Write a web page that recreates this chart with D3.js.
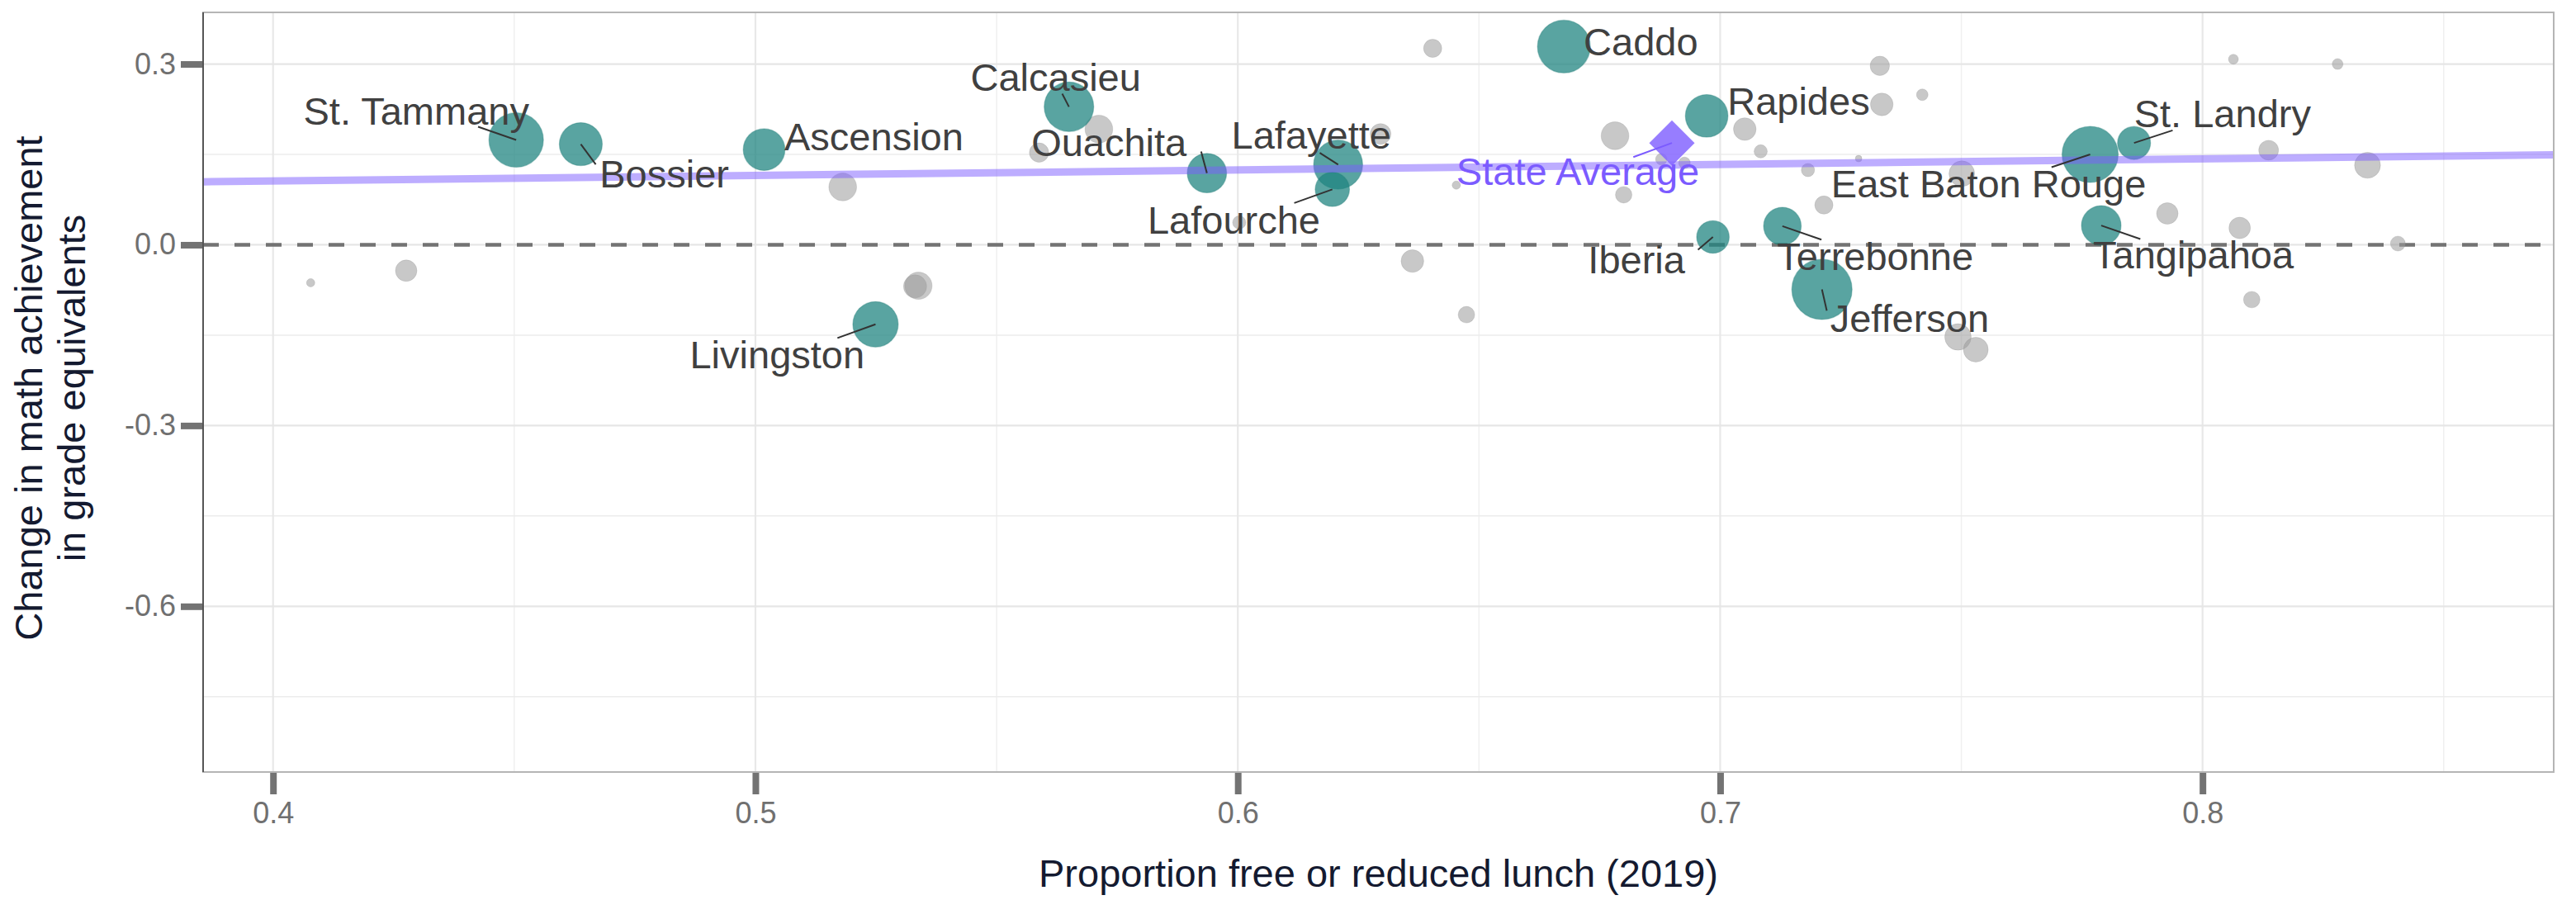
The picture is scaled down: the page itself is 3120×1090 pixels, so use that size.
<!DOCTYPE html>
<html>
<head>
<meta charset="utf-8">
<script src="https://cdn.jsdelivr.net/npm/d3@7"></script>
<style>
  body { margin: 0; background: #fff; }
  text { font-family: "Liberation Sans", Arial, sans-serif; }
</style>
</head>
<body>
<div class="chart"></div>
<script>
// named districts (teal)
const districts = ["St. Tammany", "Bossier", "Ascension", "Livingston", "Calcasieu", "Ouachita",
  "Lafayette", "Lafourche", "Caddo", "Rapides", "Iberia", "Terrebonne", "Jefferson",
  "East Baton Rouge", "St. Landry", "Tangipahoa"];
const districtFrl = [0.4504, 0.4638, 0.5018, 0.5249, 0.5650, 0.5936, 0.6208, 0.6196, 0.6676,
  0.6972, 0.6985, 0.7129, 0.7211, 0.7767, 0.7858, 0.7790];
const districtChange = [0.174, 0.167, 0.158, -0.132, 0.229, 0.119, 0.133, 0.092, 0.329,
  0.214, 0.013, 0.031, -0.074, 0.150, 0.169, 0.032];
const districtEnroll = [40.9, 25.4, 24.0, 28.4, 33.8, 21.3, 33.1, 16.2, 38.4, 25.0, 14.6,
  19.5, 50.0, 43.4, 15.0, 21.6]; // thousands of students

// where the repelled labels sit (data units, left/baseline) and where leaders start
const labelFrl = [0.4063, 0.4677, 0.5060, 0.4864, 0.5446, 0.5572, 0.5987, 0.5813, 0.6717,
  0.7015, 0.6726, 0.7118, 0.7228, 0.7230, 0.7858, 0.7773];
const labelChange = [0.1995, 0.0953, 0.157, -0.205, 0.2562, 0.1466, 0.1593, 0.0186, 0.3145,
  0.2164, -0.0475, -0.0416, -0.1444, 0.0781, 0.1949, -0.0393];
const leaderFrl = [0.4425, 0.4669, null, 0.5170, 0.5636, 0.5924, 0.6170, 0.6117, null,
  null, 0.6954, 0.7210, 0.7221, 0.7687, 0.7938, 0.7871];
const leaderChange = [0.1959, 0.1333, null, -0.1548, 0.2507, 0.1548, 0.1525, 0.0693, null,
  null, -0.0082, 0.0086, -0.1092, 0.1288, 0.1899, 0.0096];

// all other districts (grey)
const otherFrl = [0.4078, 0.4276, 0.5181, 0.5331, 0.5338, 0.5588, 0.5712, 0.6003, 0.6296,
  0.6362, 0.6404, 0.6453, 0.6474, 0.6782, 0.6800, 0.6878, 0.6926, 0.7051, 0.7084, 0.7182,
  0.7215, 0.7287, 0.7331, 0.7335, 0.7419, 0.7501, 0.7493, 0.7530, 0.7927, 0.8064, 0.8077,
  0.8102, 0.8137, 0.8280, 0.8342, 0.8405];
const otherChange = [-0.063, -0.043, 0.096, -0.069, -0.068, 0.153, 0.192, 0.037, 0.184,
  -0.027, 0.326, 0.099, -0.116, 0.181, 0.083, 0.142, 0.136, 0.192, 0.155, 0.124,
  0.066, 0.143, 0.297, 0.233, 0.249, 0.118, -0.153, -0.174, 0.052, 0.308, 0.028,
  -0.091, 0.157, 0.300, 0.132, 0.002];
const otherEnroll = [0.94, 6.34, 10.6, 7.36, 10.2, 5.14, 10.6, 2.40, 5.86, 7.04, 4.54, 0.94,
  3.75, 10.6, 3.75, 1.84, 1.84, 7.04, 2.40, 2.40, 4.54, 0.60, 5.14, 7.04, 1.84, 9.02, 9.61,
  8.44, 6.34, 1.35, 6.34, 3.75, 5.40, 1.59, 9.25, 3.04];

// state average and fitted line
const stateName = "State Average";
const stateFrl = 0.690, stateChange = 0.169;
const stateLabel = [0.6453, 0.099], stateLeader = [0.6820, 0.1456];
const fitFrl = [0.3855, 0.8728], fitChange = [0.1045, 0.1493];

const xTicks = [0.4, 0.5, 0.6, 0.7, 0.8];
const xMinor = [0.45, 0.55, 0.65, 0.75, 0.85];
const yTicks = [-0.6, -0.3, 0.0, 0.3];
const yMinor = [-0.75, -0.45, -0.15, 0.15];

const W = 3120, H = 1090;
const margin = {top: 15, right: 27, bottom: 155, left: 246};
const width = W - margin.left - margin.right;
const height = H - margin.top - margin.bottom;

const x = d3.scaleLinear().domain([0.3855, 0.8728]).range([0, width]);
const y = d3.scaleLinear().domain([-0.875, 0.3857]).range([height, 0]);
const r = d3.scaleSqrt().domain([0, 50]).range([0, 36.5]);

const svg = d3.select('.chart').append('svg')
    .attr('width', W)
    .attr('height', H);
svg.append('rect').attr('width', W).attr('height', H).attr('fill', '#fff');

const g = svg.append('g')
    .attr('transform', `translate(${margin.left},${margin.top})`);

// grid
const grid = g.append('g');
grid.selectAll('.vmin').data(xMinor.filter(d => d < x.domain()[1]))
  .enter().append('line')
    .attr('x1', d => x(d)).attr('x2', d => x(d))
    .attr('y1', 0).attr('y2', height)
    .attr('stroke', '#f0f0f0').attr('stroke-width', 1.5);
grid.selectAll('.hmin').data(yMinor)
  .enter().append('line')
    .attr('x1', 0).attr('x2', width)
    .attr('y1', d => y(d)).attr('y2', d => y(d))
    .attr('stroke', '#ececec').attr('stroke-width', 1.5);
grid.selectAll('.vmaj').data(xTicks)
  .enter().append('line')
    .attr('x1', d => x(d)).attr('x2', d => x(d))
    .attr('y1', 0).attr('y2', height)
    .attr('stroke', '#e8e8e8').attr('stroke-width', 2.2);
grid.selectAll('.hmaj').data(yTicks)
  .enter().append('line')
    .attr('x1', 0).attr('x2', width)
    .attr('y1', d => y(d)).attr('y2', d => y(d))
    .attr('stroke', '#e6e6e6').attr('stroke-width', 2.2);

// zero reference
g.append('line')
    .attr('x1', 0).attr('x2', width)
    .attr('y1', y(0)).attr('y2', y(0))
    .attr('stroke', '#737373').attr('stroke-width', 4.5)
    .attr('stroke-dasharray', '19,19');

// grey districts
g.append('g').selectAll('circle')
    .data(otherFrl.map((v, i) => ({frl: v, change: otherChange[i], n: otherEnroll[i]})))
  .enter().append('circle')
    .attr('cx', d => x(d.frl))
    .attr('cy', d => y(d.change))
    .attr('r', d => r(d.n))
    .attr('fill', '#9a9a9a')
    .attr('fill-opacity', 0.55)
    .attr('stroke', '#8a8a8a')
    .attr('stroke-opacity', 0.25)
    .attr('stroke-width', 1);

// named districts
const named = districts.map((name, i) => ({
    name, frl: districtFrl[i], change: districtChange[i], n: districtEnroll[i],
    lx: labelFrl[i], ly: labelChange[i], sx: leaderFrl[i], sy: leaderChange[i]
}));

g.append('g').selectAll('circle')
    .data(named)
  .enter().append('circle')
    .attr('cx', d => x(d.frl))
    .attr('cy', d => y(d.change))
    .attr('r', d => r(d.n))
    .attr('fill', '#1f8480')
    .attr('fill-opacity', 0.74)
    .attr('stroke', '#1f7a76')
    .attr('stroke-opacity', 0.35)
    .attr('stroke-width', 1.2);

// fitted line
g.append('path')
    .datum(fitFrl.map((v, i) => [v, fitChange[i]]))
    .attr('d', d3.line().x(d => x(d[0])).y(d => y(d[1])))
    .attr('fill', 'none')
    .attr('stroke', '#7b5cff')
    .attr('stroke-opacity', 0.5)
    .attr('stroke-width', 9);

// state average diamond
g.append('path')
    .attr('d', d3.symbol(d3.symbolSquare, 1512)())
    .attr('transform', `translate(${x(stateFrl)},${y(stateChange)}) rotate(45)`)
    .attr('fill', '#8566ff')
    .attr('fill-opacity', 0.85);

// leaders
g.append('g').selectAll('line')
    .data(named.filter(d => d.sx !== null))
  .enter().append('line')
    .attr('x1', d => x(d.sx)).attr('y1', d => y(d.sy))
    .attr('x2', d => x(d.frl)).attr('y2', d => y(d.change))
    .attr('stroke', '#333')
    .attr('stroke-width', 2);

g.append('line')
    .attr('x1', x(stateLeader[0])).attr('y1', y(stateLeader[1]))
    .attr('x2', x(stateFrl)).attr('y2', y(stateChange))
    .attr('stroke', '#7b5bff')
    .attr('stroke-width', 2);

// labels
g.append('g').selectAll('text')
    .data(named)
  .enter().append('text')
    .attr('x', d => x(d.lx))
    .attr('y', d => y(d.ly))
    .attr('font-size', 47)
    .attr('fill', '#404040')
    .text(d => d.name);

g.append('text')
    .attr('x', x(stateLabel[0]))
    .attr('y', y(stateLabel[1]))
    .attr('font-size', 47)
    .attr('fill', '#7b5bff')
    .text(stateName);

// panel border
g.append('rect')
    .attr('width', width).attr('height', height)
    .attr('fill', 'none')
    .attr('stroke', '#b5b5b5').attr('stroke-width', 2);
g.append('line')
    .attr('x1', 0).attr('x2', 0).attr('y1', 0).attr('y2', height)
    .attr('stroke', '#555').attr('stroke-width', 2);

// axes
const fmt = d => d.toFixed(1);

const xAxis = g.append('g')
    .attr('transform', `translate(0,${height + 1})`)
    .call(d3.axisBottom(x).tickValues(xTicks).tickFormat(fmt).tickSize(26).tickPadding(9));
const yAxis = g.append('g')
    .attr('transform', 'translate(-1,0)')
    .call(d3.axisLeft(y).tickValues(yTicks).tickFormat(fmt).tickSize(26).tickPadding(6));

[xAxis, yAxis].forEach(a => {
    a.select('.domain').remove();
    a.selectAll('.tick line').attr('stroke', '#737373').attr('stroke-width', 8);
    a.selectAll('.tick text')
        .attr('fill', '#707070')
        .attr('font-size', 36)
        .attr('font-family', '"Liberation Sans", Arial, sans-serif');
});

// axis titles
svg.append('text')
    .attr('x', margin.left + width / 2)
    .attr('y', 1074)
    .attr('text-anchor', 'middle')
    .attr('font-size', 47)
    .attr('fill', '#141a30')
    .text('Proportion free or reduced lunch (2019)');

const yTitle = svg.append('text')
    .attr('transform', `translate(0,470) rotate(-90)`)
    .attr('text-anchor', 'middle')
    .attr('font-size', 47)
    .attr('fill', '#141a30');
yTitle.append('tspan').attr('x', 0).attr('y', 51).text('Change in math achievement');
yTitle.append('tspan').attr('x', 0).attr('y', 103).text('in grade equivalents');
</script>
</body>
</html>
